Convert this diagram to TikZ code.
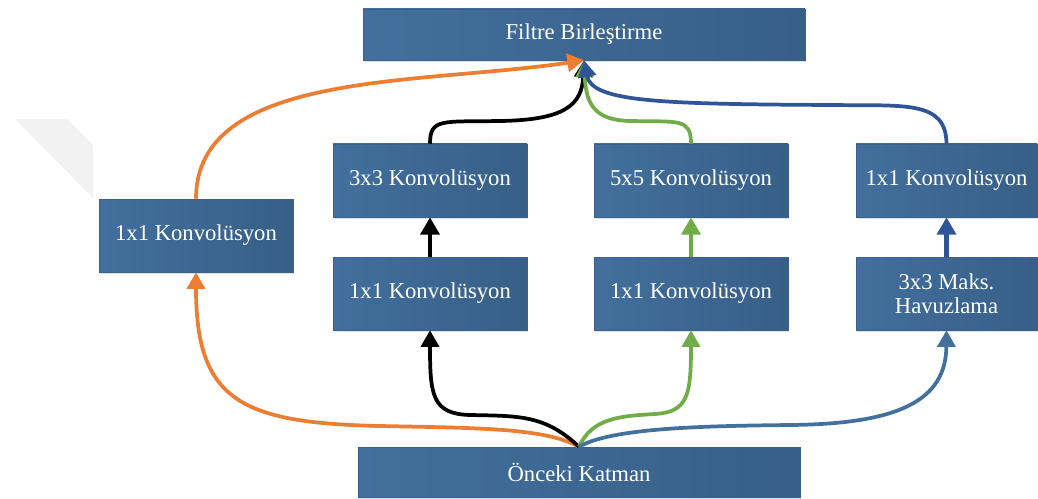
\documentclass[tikz,border=0pt]{standalone}
\usepackage{fontspec}
\setmainfont{Liberation Serif}
\usetikzlibrary{arrows.meta, shadows}

\definecolor{kutuA}{HTML}{426F9D}
\definecolor{kutuB}{HTML}{375F87}
\definecolor{kenar}{HTML}{3A6189}
\definecolor{turuncu}{HTML}{ED7D31}
\definecolor{yesil}{HTML}{70AD47}
\definecolor{lacivert}{HTML}{2F5597}
\definecolor{mavi}{HTML}{41719C}

\tikzset{
kutu/.style={draw=kenar, line width=.4pt, left color=kutuA, right color=kutuB,
  text=white, font=\fontsize{17}{15.5}\selectfont, align=center, inner sep=0pt,
  drop shadow={shadow xshift=.4pt, shadow yshift=-1.5pt, fill=kenar, opacity=.18}},
ok/.style={line width=2.8pt, -{Triangle[length=12.5pt,width=13.5pt]}},
kisaok/.style={line width=3.4pt, -{Triangle[length=13pt,width=14pt]}}
}

\begin{document}
\begin{tikzpicture}[x=0.75pt, y=-0.75pt]

\useasboundingbox (0,0) rectangle (1038,499);

\fill[black!5] (15,119) -- (67,119) -- (93,145) -- (93,198) -- cycle;

% kutular
\node[kutu, minimum width=331.5pt, minimum height=38.25pt] (birles) at (584,34.5) {Filtre Birleştirme};
\node[kutu, minimum width=331.5pt, minimum height=37.5pt] (onceki) at (579,472) {Önceki Katman};

\begin{scope}[every node/.append style={minimum width=145.5pt, minimum height=54.75pt}]
\node[kutu] (sol) at (196,235.5) {1x1 Konvolüsyon};
\node[kutu] (k3) at (430,180.5) {3x3 Konvolüsyon};
\node[kutu] (m1) at (430,293.5) {1x1 Konvolüsyon};
\node[kutu] (k5) at (691,180.5) {5x5 Konvolüsyon};
\node[kutu] (m2) at (691,293.5) {1x1 Konvolüsyon};
\end{scope}

\begin{scope}[every node/.append style={minimum width=135.75pt, minimum height=54.75pt}]
\node[kutu] (sag1) at (946.5,180.5) {1x1 Konvolüsyon};
\node[kutu] (havuz) at (946.5,293.5) {3x3 Maks.\\[2.5pt]Havuzlama};
\end{scope}

% alttan
\draw[ok, turuncu] (onceki.north) .. controls (545,428) and (480,428) .. (380,426)
  .. controls (240,423) and (196,400) .. (sol.south);
\draw[ok] (onceki.north) .. controls (545,415) and (520,416) .. (470,415)
  .. controls (432,414) and (430,395) .. (m1.south);
\draw[ok, yesil] (onceki.north) .. controls (592,418) and (620,416) .. (655,414)
  .. controls (688,412) and (691,395) .. (m2.south);
\draw[ok, mavi] (onceki.north) .. controls (612,428) and (700,426) .. (790,425)
  .. controls (900,424) and (946,400) .. (havuz.south);

% kisa oklar
\draw[kisaok] (m1) -- (k3);
\draw[kisaok, yesil] (m2) -- (k5);
\draw[kisaok, lacivert] (havuz) -- (sag1);

% uste
\draw[ok, turuncu] (sol.north) .. controls (196,70) and (420,85) .. (birles.south);
\draw[ok] (k3.north) .. controls (430,118) and (442,122) .. (500,121)
  .. controls (565,120) and (582,105) .. (birles.south);
\draw[ok, yesil] (k5.north) .. controls (691,118) and (679,122) .. (630,121)
  .. controls (595,120) and (586,105) .. (birles.south);
\draw[ok, lacivert] (sag1.north) .. controls (946,100) and (905,106) .. (830,105)
  .. controls (660,104) and (592,102) .. (birles.south);

\end{tikzpicture}
\end{document}
